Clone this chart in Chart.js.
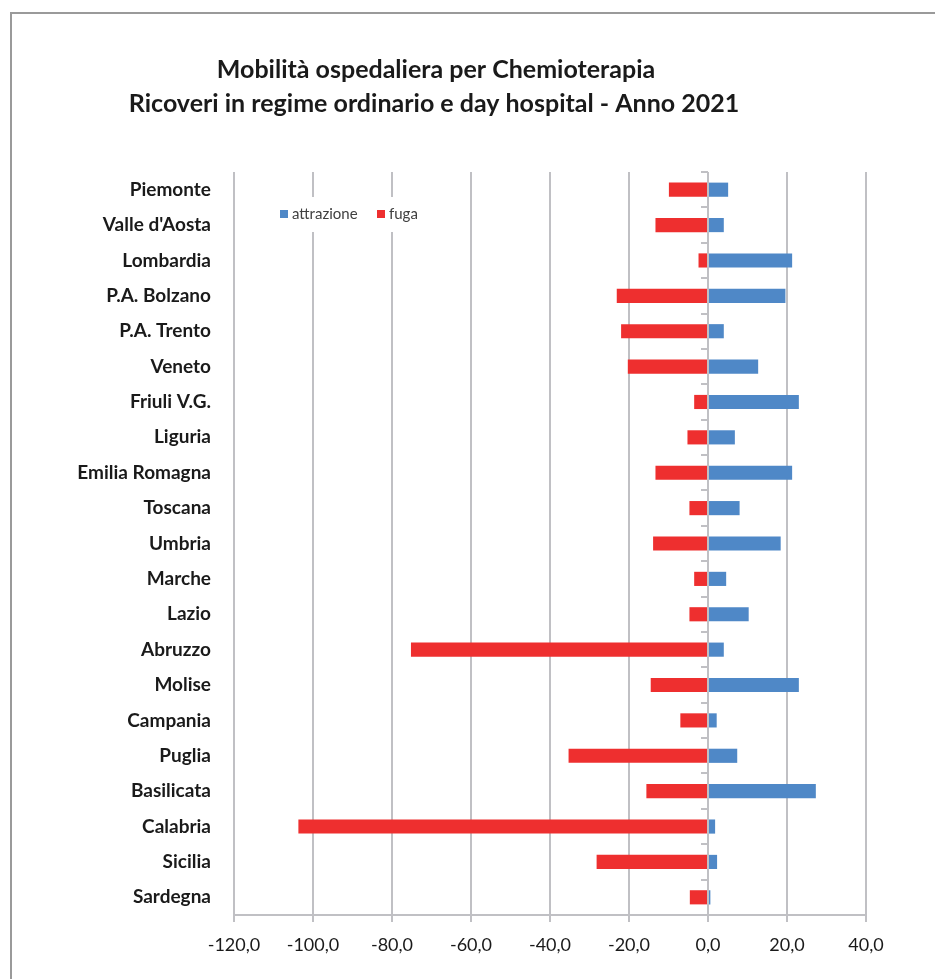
<!DOCTYPE html>
<html>
<head>
<meta charset="utf-8">
<script src="https://cdn.jsdelivr.net/npm/chart.js@4"></script>
<style>
  body { margin: 0; background: #fff; }
  #wrap { width: 935px; height: 979px; }
</style>
</head>
<body>
<div id="wrap"><canvas id="chartMobilita" width="935" height="979"></canvas></div>
<script>
const regioni = ["Piemonte", "Valle d'Aosta", "Lombardia", "P.A. Bolzano", "P.A. Trento", "Veneto",
    "Friuli V.G.", "Liguria", "Emilia Romagna", "Toscana", "Umbria", "Marche", "Lazio", "Abruzzo",
    "Molise", "Campania", "Puglia", "Basilicata", "Calabria", "Sicilia", "Sardegna"];
const attrazione = [5.1, 4.0, 21.3, 19.6, 4.0, 12.7, 23.0, 6.8, 21.3, 8.0, 18.4, 4.6, 10.3, 4.0,
    23.0, 2.2, 7.4, 27.3, 1.8, 2.3, 0.6];
const fuga = [-9.9, -13.3, -2.4, -23.1, -22.0, -20.3, -3.5, -5.2, -13.3, -4.7, -13.9, -3.5, -4.7, -75.2,
    -14.5, -7.0, -35.3, -15.6, -103.7, -28.2, -4.6];
const titolo = ["Mobilità ospedaliera per Chemioterapia", "Ricoveri in regime ordinario e day hospital - Anno 2021"];
const serie = ["attrazione", "fuga"];
const colori = ["#4F88C7", "#EE2F2F"];

const FONT = "Lato, 'Open Sans', sans-serif";
const GRIGIO = "#c0c0c4";

// cornice, titolo, legenda e trattini dell'asse delle categorie
const decorazioni = {
    id: "decorazioni",
    beforeDraw(chart) {
        const ctx = chart.ctx;
        ctx.save();
        ctx.fillStyle = "#fff";
        ctx.fillRect(0, 0, chart.width, chart.height);
        ctx.strokeStyle = "#9a9a9a";
        ctx.lineWidth = 2;
        ctx.strokeRect(11, 13, chart.width + 20, chart.height + 20);
        ctx.restore();
    },
    afterDatasetsDraw(chart) {
        const ctx = chart.ctx;
        const x = chart.scales.x, y = chart.scales.y;
        const x0 = x.getPixelForValue(0);
        const passo = (y.getPixelForValue(1) - y.getPixelForValue(0));
        ctx.save();
        ctx.strokeStyle = GRIGIO;
        ctx.lineWidth = 2;
        for (let i = 0; i < regioni.length; i++) {
            const yy = Math.round(y.getPixelForValue(i) - passo / 2);
            ctx.beginPath();
            ctx.moveTo(x0 - 7, yy);
            ctx.lineTo(x0, yy);
            ctx.stroke();
        }
        ctx.restore();
    },
    afterDraw(chart) {
        const ctx = chart.ctx;
        ctx.save();
        // titolo
        ctx.fillStyle = "#1a1a1a";
        ctx.textAlign = "center";
        ctx.textBaseline = "middle";
        ctx.font = "bold 25px " + FONT;
        ctx.fillText(titolo[0], 436, 70);
        ctx.fillText(titolo[1], 434, 104);
        // legenda
        ctx.fillStyle = "#fff";
        ctx.fillRect(272, 197, 160, 35);
        ctx.font = "15px " + FONT;
        ctx.textAlign = "left";
        let lx = 280;
        serie.forEach((s, i) => {
            ctx.fillStyle = colori[i];
            ctx.fillRect(lx, 210, 8, 8);
            ctx.fillStyle = "#404040";
            ctx.fillText(s, lx + 12, 214);
            lx = 377;
        });
        ctx.restore();
    }
};

const ctx = document.getElementById("chartMobilita").getContext("2d");
new Chart(ctx, {
    type: "bar",
    data: {
        labels: regioni,
        datasets: [
            { label: serie[0], data: attrazione, backgroundColor: colori[0] },
            { label: serie[1], data: fuga, backgroundColor: colori[1] }
        ]
    },
    options: {
        indexAxis: "y",
        responsive: false,
        animation: false,
        layout: { padding: { top: 172, right: 69, left: 0, bottom: 0 } },
        datasets: { bar: { categoryPercentage: 1, barPercentage: 0.4 } },
        plugins: {
            legend: { display: false },
            title: { display: false },
            tooltip: { enabled: false }
        },
        scales: {
            x: {
                stacked: true,
                min: -120,
                max: 40,
                ticks: {
                    stepSize: 20,
                    padding: 12,
                    color: "#1a1a1a",
                    font: { family: FONT, size: 18 },
                    callback: v => v.toFixed(1).replace(".", ",")
                },
                grid: { color: GRIGIO, lineWidth: 2, tickLength: 7 },
                border: { color: GRIGIO, width: 2 },
                afterFit: s => { s.height = 64; }
            },
            y: {
                stacked: true,
                grid: { display: false },
                border: { display: false },
                ticks: {
                    padding: 15,
                    color: "#1a1a1a",
                    font: { family: FONT, size: 19, weight: "bold" }
                },
                afterFit: s => { s.width = 234; }
            }
        }
    },
    plugins: [decorazioni]
});
</script>
</body>
</html>
